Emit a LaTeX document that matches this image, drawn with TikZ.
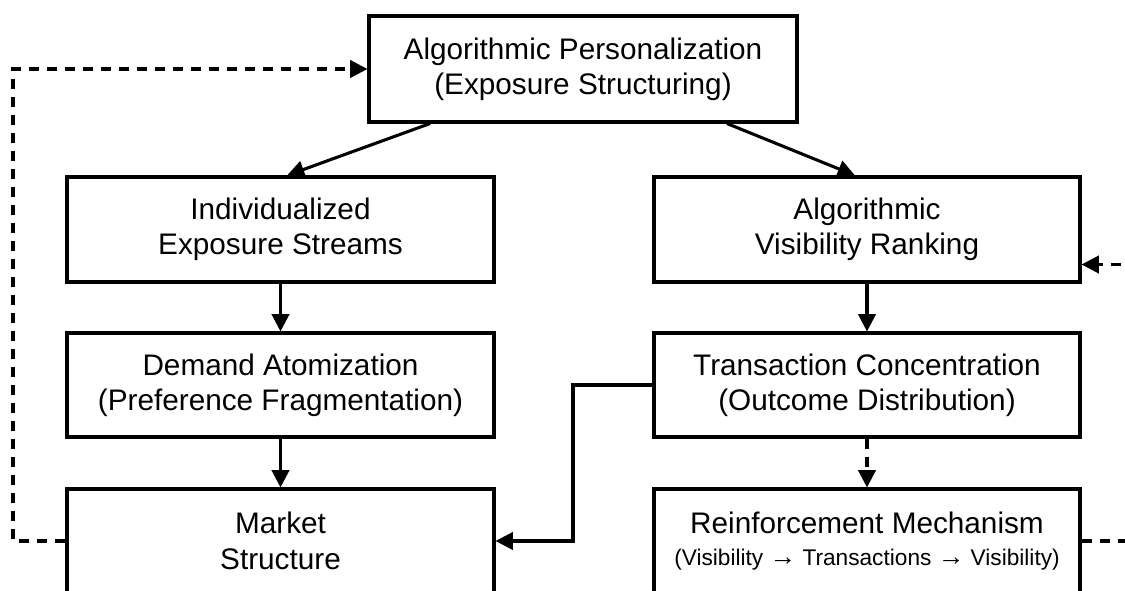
\documentclass[tikz,border=0pt]{standalone}
\usepackage{fontspec}
\setmainfont{Liberation Sans}
\usetikzlibrary{arrows.meta}
\tikzset{
  box/.style={draw=black, line width=2.3pt, fill=white, rectangle, align=center, inner sep=0pt,
    font=\fontsize{22.3pt}{26.5pt}\selectfont},
  conn/.style={line width=2.3pt, -{Triangle[length=13pt,width=13pt]}},
  dconn/.style={conn, dash pattern=on 7.5pt off 6pt},
}
\begin{document}
\begin{tikzpicture}[x=0.75pt,y=-0.75pt]
\useasboundingbox (0,0) rectangle (1125,591);
\clip (0,0) rectangle (1125,591);
\fill[white] (0,0) rectangle (1125,591);
\node[box, minimum width=428*0.75pt, minimum height=106*0.75pt] (top) at (583,69) {Algorithmic Personalization\\(Exposure Structuring)};
\node[box, minimum width=427*0.75pt, minimum height=105*0.75pt] (ind) at (280.5,229.5) {Individualized\\Exposure Streams};
\node[box, minimum width=426*0.75pt, minimum height=105*0.75pt] (vis) at (867,229.5) {Algorithmic\\Visibility Ranking};
\node[box, minimum width=427*0.75pt, minimum height=104*0.75pt] (dem) at (280.5,385) {Demand Atomization\\(Preference Fragmentation)};
\node[box, minimum width=426*0.75pt, minimum height=104*0.75pt] (tra) at (867,385) {Transaction Concentration\\(Outcome Distribution)};
\node[box, minimum width=427*0.75pt, minimum height=104*0.75pt] (mar) at (280.5,541) {Market\\Structure};
\node[box, minimum width=426*0.75pt, minimum height=104*0.75pt] (rei) at (867,541) {Reinforcement Mechanism\\[-2pt]{\fontsize{17pt}{20pt}\selectfont (Visibility \raisebox{0.5pt}{\fontsize{20pt}{20pt}\selectfont →} Transactions \raisebox{0.5pt}{\fontsize{20pt}{20pt}\selectfont →} Visibility)}};
% top splits
\draw[conn] ([xshift=-114.75pt]top.south) -- ([xshift=4.9pt]ind.north);
\draw[conn] ([xshift=108pt]top.south) -- ([xshift=-9pt]vis.north);
% verticals
\draw[conn] (ind.south) -- (dem.north);
\draw[conn] (dem.south) -- (mar.north);
\draw[conn] (vis.south) -- (tra.north);
\draw[dconn] (tra.south) -- (rei.north);
% elbow from transaction to market
\coordinate (elb) at (573,385);
\draw[conn] (tra.west) -- (elb) |- (mar.east);
% left dashed loop
\coordinate (lb) at (13,541);
\draw[dconn] (mar.west) -- (lb) |- (top.west);
% right dashed loop
\coordinate (rb) at (1170,541);
\draw[dconn] (rei.east) -- (rb) |- ([yshift=-26.25pt]vis.east);
\end{tikzpicture}
\end{document}
